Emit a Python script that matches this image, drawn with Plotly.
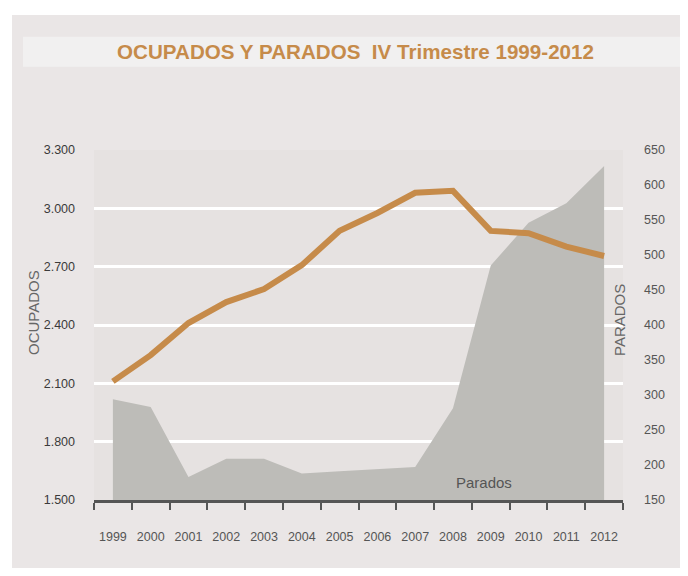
import plotly.graph_objects as go

years = ["1999", "2000", "2001", "2002", "2003", "2004", "2005",
         "2006", "2007", "2008", "2009", "2010", "2011", "2012"]
ocupados = [2110, 2245, 2410, 2518, 2585, 2708, 2884,
            2976, 3080, 3090, 2884, 2872, 2803, 2755]
parados = [294, 283, 183, 209, 209, 188, 191,
           194, 197, 281, 485, 546, 574, 627]
left_ticks = [1500, 1800, 2100, 2400, 2700, 3000, 3300]
right_ticks = [150, 200, 250, 300, 350, 400, 450, 500, 550, 600, 650]

FONT = "Liberation Sans, Arial, Helvetica, sans-serif"
ORANGE = "#C68B4A"
PANEL = "#EAE6E6"

# page body has an 8px margin: figure occupies window pixels 8..680, 8..568
OFF = 8
W, H = 688 - 2 * OFF, 576 - 2 * OFF
PL, PR, PT, PB = 94, 623, 150, 500          # plot area in window pixels
PW, PH = PR - PL, PB - PT


def px(X):
    return (X - PL) / PW


def py(Y):
    return (PB - Y) / PH


fig = go.Figure()

# invisible trace to anchor the primary (left) axis
fig.add_trace(go.Scatter(x=years, y=ocupados, yaxis="y", mode="lines",
                         line=dict(width=0, color="rgba(0,0,0,0)"),
                         hoverinfo="skip", showlegend=False))
# Parados area (right axis)
fig.add_trace(go.Scatter(x=years, y=parados, yaxis="y2", mode="lines",
                         fill="tozeroy", fillcolor="#BDBCB8",
                         line=dict(width=0, color="#BDBCB8"),
                         name="Parados", showlegend=False))
# Ocupados line (drawn on top)
fig.add_trace(go.Scatter(x=years, y=ocupados, yaxis="y3", mode="lines",
                         line=dict(width=6, color=ORANGE),
                         name="Ocupados", showlegend=False))

fig.update_layout(
    width=W, height=H,
    margin=dict(l=PL - OFF, r=(OFF + W) - PR, t=PT - OFF, b=(OFF + H) - PB),
    paper_bgcolor=PANEL,
    plot_bgcolor="#E6E2E1",
    separators=",.",
    title=dict(text="OCUPADOS Y PARADOS \u00a0IV Trimestre 1999-2012",
               font=dict(family=FONT, size=20.6, color=ORANGE, weight="bold"),
               x=(355.5 - OFF) / W, xanchor="center",
               y=1 - (51.5 - OFF) / H, yanchor="middle"),
    xaxis=dict(type="category", categoryorder="array", categoryarray=years,
               range=[-0.5, 13.5], tickson="boundaries", ticks="outside",
               ticklen=7, tickwidth=1.5, tickcolor="#555555",
               showline=True, linecolor="#555555", linewidth=3,
               showgrid=False, ticklabelstandoff=23, tickangle=0,
               tickfont=dict(family=FONT, size=12.5, color="#555555")),
    yaxis=dict(range=[1500, 3300], tickvals=left_ticks, tickformat=",d",
               showgrid=True, gridcolor="white", gridwidth=2.5,
               zeroline=False, showline=False, ticks="",
               ticklabelstandoff=18,
               tickfont=dict(family=FONT, size=12.5, color="#3A3A3A")),
    yaxis2=dict(overlaying="y", side="right", range=[150, 650],
                tickvals=right_ticks, showgrid=False, zeroline=False,
                showline=False, ticks="", ticklabelstandoff=20,
                tickfont=dict(family=FONT, size=12.5, color="#555555")),
    yaxis3=dict(overlaying="y", range=[1500, 3300], visible=False),
    shapes=[
        # white outer margins (left and top of the grey panel)
        dict(type="rect", xref="paper", yref="paper", layer="below",
             x0=px(0), x1=px(12), y0=py(576), y1=py(0),
             fillcolor="white", line=dict(width=0)),
        dict(type="rect", xref="paper", yref="paper", layer="below",
             x0=px(0), x1=px(688), y0=py(15), y1=py(0),
             fillcolor="white", line=dict(width=0)),
        # title band
        dict(type="rect", xref="paper", yref="paper", layer="below",
             x0=px(23), x1=px(688), y0=py(66.7), y1=py(36.7),
             fillcolor="#F1F0F0", line=dict(width=0)),
    ],
    annotations=[
        dict(text="OCUPADOS", xref="paper", yref="paper",
             x=px(33), y=py(313), textangle=-90,
             showarrow=False, xanchor="center", yanchor="middle",
             font=dict(family=FONT, size=15, color="#666666")),
        dict(text="PARADOS", xref="paper", yref="paper",
             x=px(619), y=py(320), textangle=-90,
             showarrow=False, xanchor="center", yanchor="middle",
             font=dict(family=FONT, size=15, color="#666666")),
        dict(text="Parados", xref="paper", yref="paper",
             x=px(484), y=py(482),
             showarrow=False, xanchor="center", yanchor="middle",
             font=dict(family=FONT, size=15, color="#555555")),
    ],
)

fig.write_html("out.html")
